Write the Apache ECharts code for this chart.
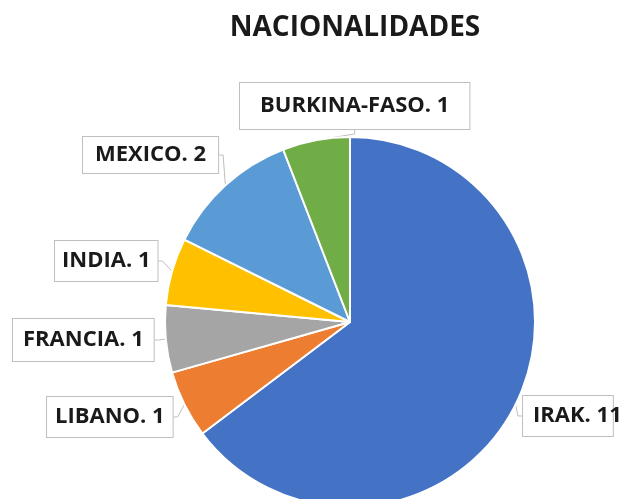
<!DOCTYPE html>
<html>
<head>
<meta charset="utf-8">
<script src="https://cdn.jsdelivr.net/npm/echarts@6/dist/echarts.min.js"></script>
<style>
  html, body { margin: 0; padding: 0; background: #fff; }
  #main { width: 628px; height: 499px; }
</style>
</head>
<body>
<div id="main"></div>
<script>
const categories = ["IRAK", "LIBANO", "FRANCIA", "INDIA", "MEXICO", "BURKINA-FASO"];
const counts = [11, 1, 1, 1, 2, 1];
const colors = ["#4472C4", "#ED7D31", "#A5A5A5", "#FFC000", "#5B9BD5", "#70AD47"];

// label box left edge / vertical middle
const labelPos = [
  [523, 416],
  [47, 417],
  [13, 340],
  [55, 261],
  [83, 155],
  [240, 106]
];
const labelPad = [
  [9, 10], [9, 8], [10, 10], [9, 7], [7, 12], [12, 20]
];

var chart = echarts.init(document.getElementById("main"));

chart.setOption({
  animation: false,
  title: {
    text: "NACIONALIDADES",
    left: 350,
    top: 9,
    textAlign: "center",
    textStyle: {
      fontFamily: "Open Sans",
      fontWeight: "bold",
      fontSize: 28,
      color: "#1a1a1a"
    }
  },
  series: [
    {
      type: "pie",
      center: [350, 322],
      radius: 185,
      startAngle: 90,
      clockwise: true,
      itemStyle: { borderColor: "#fff", borderWidth: 2 },
      data: categories.map((name, i) => ({
        name: name,
        value: counts[i],
        itemStyle: { color: colors[i] },
        label: { padding: labelPad[i] }
      })),
      label: {
        show: true,
        formatter: "{b}. {c}",
        fontFamily: "Open Sans",
        fontWeight: "bold",
        fontSize: 22,
        lineHeight: 22,
        color: "#1a1a1a",
        backgroundColor: "#fff",
        borderColor: "#bfbfbf",
        borderWidth: 1,
        overflow: "none"
      },
      labelLine: {
        show: true,
        length: 4,
        length2: 4,
        lineStyle: { color: "#bfbfbf", width: 1 }
      },
      labelLayout: function (params) {
        const p = labelPos[params.dataIndex];
        return { x: p[0], y: p[1], align: "left", verticalAlign: "middle" };
      }
    }
  ]
});
</script>
</body>
</html>
